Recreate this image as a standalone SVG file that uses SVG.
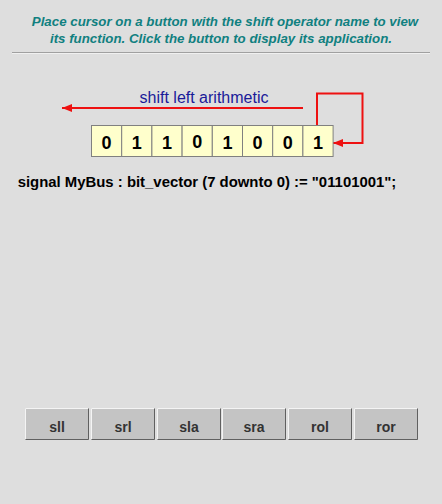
<svg xmlns="http://www.w3.org/2000/svg" width="442" height="504" viewBox="0 0 442 504">
<defs>
<style>
.hdr{font-family:"Liberation Sans",Arial,sans-serif;font-weight:bold;font-style:italic;font-size:13.3px;fill:#108080;text-anchor:middle}
.cell rect{fill:#ffffcc;stroke:#808080;stroke-width:1}
.cell text{font-family:"Liberation Sans",Arial,sans-serif;font-weight:bold;font-size:18px;fill:#000;text-anchor:middle}
.wire{fill:none;stroke:#ee1111;stroke-width:2}
.btn rect.face{fill:#c4c4c4}
.btn text{font-family:"Liberation Sans",Arial,sans-serif;font-weight:bold;font-size:14px;fill:#333;text-anchor:middle}
.hl{stroke:#f4f4f4;stroke-width:1;fill:none}
.sh{stroke:#606060;stroke-width:1;fill:none}
</style>
<marker id="ah" markerWidth="11" markerHeight="8" refX="10" refY="4" orient="auto" markerUnits="userSpaceOnUse">
<path d="M0,0 L10,4 L0,8 Z" fill="#ee1111"/>
</marker>
</defs>
<rect width="442" height="504" fill="#dedede"/>
<g id="header">
<text class="hdr" x="225" y="26">Place cursor on a button with the shift operator name to view</text>
<text class="hdr" x="221" y="43">its function. Click the button to display its application.</text>
<line x1="12" y1="52.5" x2="430" y2="52.5" stroke="#a0a0a0" stroke-width="1"/>
<line x1="12" y1="53.5" x2="430" y2="53.5" stroke="#f0f0f0" stroke-width="1"/>
</g>
<g id="label">
<text x="204" y="103" font-family="'Liberation Sans',Arial,sans-serif" font-size="16" fill="#1a1a99" text-anchor="middle">shift left arithmetic</text>
</g>
<g id="connectors">
<line class="wire" x1="303" y1="108" x2="62" y2="108" marker-end="url(#ah)"/>
<polyline class="wire" points="317,125 317,93.5 362.5,93.5 362.5,143 333,143" marker-end="url(#ah)"/>
</g>
<g id="register" class="cell">
<g id="bit7"><rect x="91.5" y="125.5" width="30.2" height="31"/><text x="106.6" y="148.5">0</text></g>
<g id="bit6"><rect x="121.7" y="125.5" width="30.2" height="31"/><text x="136.8" y="148.5">1</text></g>
<g id="bit5"><rect x="151.9" y="125.5" width="30.2" height="31"/><text x="167" y="148.5">1</text></g>
<g id="bit4"><rect x="182.1" y="125.5" width="30.2" height="31"/><text x="197.2" y="147.5">0</text></g>
<g id="bit3"><rect x="212.3" y="125.5" width="30.2" height="31"/><text x="227.4" y="148.5">1</text></g>
<g id="bit2"><rect x="242.5" y="125.5" width="30.2" height="31"/><text x="257.6" y="148.5">0</text></g>
<g id="bit1"><rect x="272.7" y="125.5" width="30.2" height="31"/><text x="287.8" y="148.5">0</text></g>
<g id="bit0"><rect x="302.9" y="125.5" width="30.2" height="31"/><text x="318" y="148.5">1</text></g>
</g>
<g id="declaration">
<text x="207" y="187" font-family="'Liberation Sans',Arial,sans-serif" font-weight="bold" font-size="14.9" fill="#000" text-anchor="middle">signal MyBus : bit_vector (7 downto 0) := "01101001";</text>
</g>
<g id="buttons">
<g id="btn-sll" class="btn"><rect class="face" x="25" y="408" width="64" height="32"/><path class="hl" d="M25.5,439.5 V408.5 H88.5"/><path class="sh" d="M88.5,408.5 V439.5 H25.5"/><text x="57" y="432">sll</text></g>
<g id="btn-srl" class="btn"><rect class="face" x="91" y="408" width="64" height="32"/><path class="hl" d="M91.5,439.5 V408.5 H154.5"/><path class="sh" d="M154.5,408.5 V439.5 H91.5"/><text x="123" y="432">srl</text></g>
<g id="btn-sla" class="btn"><rect class="face" x="157" y="408" width="64" height="32"/><path class="hl" d="M157.5,439.5 V408.5 H220.5"/><path class="sh" d="M220.5,408.5 V439.5 H157.5"/><text x="189" y="432">sla</text></g>
<g id="btn-sra" class="btn"><rect class="face" x="222" y="408" width="64" height="32"/><path class="hl" d="M222.5,439.5 V408.5 H285.5"/><path class="sh" d="M285.5,408.5 V439.5 H222.5"/><text x="254" y="432">sra</text></g>
<g id="btn-rol" class="btn"><rect class="face" x="288" y="408" width="64" height="32"/><path class="hl" d="M288.5,439.5 V408.5 H351.5"/><path class="sh" d="M351.5,408.5 V439.5 H288.5"/><text x="320" y="432">rol</text></g>
<g id="btn-ror" class="btn"><rect class="face" x="354" y="408" width="64" height="32"/><path class="hl" d="M354.5,439.5 V408.5 H417.5"/><path class="sh" d="M417.5,408.5 V439.5 H354.5"/><text x="386" y="432">ror</text></g>
</g>
</svg>
